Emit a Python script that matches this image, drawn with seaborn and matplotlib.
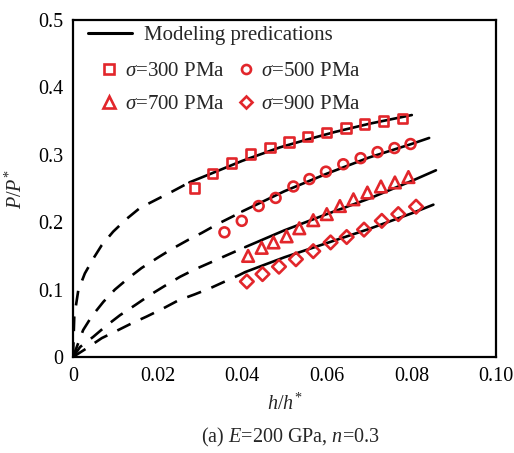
import numpy as np
import pandas as pd
import matplotlib
matplotlib.use("Agg")
import matplotlib.pyplot as plt
from matplotlib.lines import Line2D
import seaborn as sns

# ---------------- data ----------------
# experimental points
h300 = [0.0287, 0.0330, 0.0375, 0.0420, 0.0465, 0.0510, 0.0554, 0.0599, 0.0645, 0.0689, 0.0734, 0.0779]
p300 = [0.251, 0.272, 0.288, 0.301, 0.311, 0.319, 0.327, 0.333, 0.340, 0.346, 0.350, 0.354]

h500 = [0.0358, 0.0399, 0.0439, 0.0479, 0.0521, 0.0559, 0.0598, 0.0639, 0.0680, 0.0720, 0.0760, 0.0798]
p500 = [0.185, 0.202, 0.224, 0.236, 0.253, 0.264, 0.275, 0.286, 0.295, 0.304, 0.310, 0.316]

h700 = [0.0414, 0.0446, 0.0474, 0.0505, 0.0535, 0.0568, 0.0600, 0.0631, 0.0663, 0.0696, 0.0728, 0.0761, 0.0793]
p700 = [0.150, 0.162, 0.170, 0.179, 0.191, 0.203, 0.212, 0.224, 0.234, 0.244, 0.253, 0.259, 0.267]

h900 = [0.0411, 0.0448, 0.0487, 0.0527, 0.0568, 0.0609, 0.0647, 0.0688, 0.0730, 0.0769, 0.0811]
p900 = [0.112, 0.123, 0.134, 0.145, 0.157, 0.170, 0.178, 0.189, 0.202, 0.212, 0.223]

# model curves: dashed (extrapolated) part and solid part
m300_dash_h = [0, 0.0003, 0.00125, 0.0028, 0.0048, 0.0068, 0.0095, 0.0125, 0.0158, 0.0200, 0.0233, 0.0275]
m300_dash_p = [0, 0.060, 0.099, 0.124, 0.146, 0.166, 0.186, 0.204, 0.221, 0.2345, 0.245, 0.259]
m300_sol_h = [0.0275, 0.0330, 0.0400, 0.0489, 0.0550, 0.0620, 0.0700, 0.0801]
m300_sol_p = [0.259, 0.273, 0.291, 0.311, 0.322, 0.334, 0.346, 0.359]

m500_dash_h = [0, 0.0024, 0.0044, 0.0072, 0.0099, 0.0131, 0.0162, 0.0202, 0.0233, 0.0273, 0.0304, 0.0344, 0.0379, 0.0400]
m500_dash_p = [0, 0.040, 0.060, 0.082, 0.100, 0.117, 0.132, 0.148, 0.160, 0.174, 0.184, 0.198, 0.209, 0.216]
m500_sol_h = [0.0400, 0.0500, 0.0600, 0.0700, 0.0800, 0.0842]
m500_sol_p = [0.216, 0.246, 0.272, 0.296, 0.316, 0.325]

m700_dash_h = [0, 0.0017, 0.0048, 0.0076, 0.0111, 0.0147, 0.0182, 0.0213, 0.0253, 0.0288, 0.0328, 0.0360, 0.0407]
m700_dash_p = [0, 0.015, 0.030, 0.045, 0.062, 0.077, 0.092, 0.104, 0.119, 0.130, 0.141, 0.150, 0.163]
m700_sol_h = [0.0407, 0.0500, 0.0600, 0.0700, 0.0800, 0.0858]
m700_sol_p = [0.163, 0.188, 0.212, 0.235, 0.261, 0.277]

m900_dash_h = [0, 0.0030, 0.0068, 0.0099, 0.0139, 0.0174, 0.0213, 0.0249, 0.0288, 0.0324, 0.0359, 0.0391, 0.0407]
m900_dash_p = [0, 0.012, 0.028, 0.0375, 0.050, 0.060, 0.072, 0.084, 0.093, 0.102, 0.112, 0.121, 0.126]
m900_sol_h = [0.0407, 0.0500, 0.0600, 0.0700, 0.0800, 0.0852]
m900_sol_p = [0.126, 0.148, 0.169, 0.190, 0.213, 0.226]

x_ticks = [0, 0.02, 0.04, 0.06, 0.08, 0.10]
x_ticklabels = ["0", "0.02", "0.04", "0.06", "0.08", "0.10"]
y_ticks = [0, 0.1, 0.2, 0.3, 0.4, 0.5]
y_ticklabels = ["0", "0.1", "0.2", "0.3", "0.4", "0.5"]

series_labels = [r"$\sigma$=300 PMa", r"$\sigma$=500 PMa", r"$\sigma$=700 PMa", r"$\sigma$=900 PMa"]
model_label = "Modeling predications"
x_label = r"$h/h^{*}$"
y_label = r"$P/P^{*}$"
caption = r"(a) $E$=200 GPa, $n$=0.3"

# ---------------- build long-form table for the model curves ----------------
segments = [
    ("300", "dash", m300_dash_h, m300_dash_p), ("300", "solid", m300_sol_h, m300_sol_p),
    ("500", "dash", m500_dash_h, m500_dash_p), ("500", "solid", m500_sol_h, m500_sol_p),
    ("700", "dash", m700_dash_h, m700_dash_p), ("700", "solid", m700_sol_h, m700_sol_p),
    ("900", "dash", m900_dash_h, m900_dash_p), ("900", "solid", m900_sol_h, m900_sol_p),
]
model_df = pd.concat(
    [pd.DataFrame({"h": hh, "p": pp, "seg": f"{c}-{part}", "part": part})
     for c, part, hh, pp in segments],
    ignore_index=True,
)

# ---------------- style ----------------
sns.set_style("white")
plt.rcParams["font.family"] = ["Liberation Serif", "DejaVu Serif"]
plt.rcParams["mathtext.fontset"] = "custom"
plt.rcParams["mathtext.rm"] = "Liberation Serif"
plt.rcParams["mathtext.it"] = "Liberation Serif:italic"
plt.rcParams["mathtext.bf"] = "Liberation Serif:bold"

RED = "#e2262b"
FS = 14.5
FS_LEG = 15

fig = plt.figure(figsize=(5.14, 4.53), dpi=100)
ax = fig.add_axes([73 / 514, 1 - 357 / 453, (496 - 73) / 514, (357 - 20) / 453])

LW = 1.9
for seg_name, seg_df in model_df.groupby("seg", sort=False):
    part = seg_df["part"].iloc[0]
    ls = (0, (5.6, 4.2)) if part == "dash" else "-"
    sns.lineplot(data=seg_df, x="h", y="p", ax=ax, color="black", lw=LW, linestyle=ls,
                 estimator=None, sort=False, errorbar=None, legend=False, zorder=2)

markers = ["s", "o", "^", "D"]
sizes = [48, 50, 70, 48]
for (hx, py), mk, sz in zip([(h300, p300), (h500, p500), (h700, p700), (h900, p900)], markers, sizes):
    sns.scatterplot(x=hx, y=py, ax=ax, marker=mk, s=sz, facecolor="none",
                    edgecolor=RED, linewidth=1.9, zorder=3)

ax.set_xlim(0, 0.10)
ax.set_ylim(0, 0.5)
ax.set_xticks(x_ticks)
ax.set_xticklabels(x_ticklabels)
ax.set_yticks(y_ticks)
ax.set_yticklabels(y_ticklabels)
ax.set_xticks(np.arange(0, 0.1001, 0.01), minor=True)
ax.set_yticks(np.arange(0, 0.5001, 0.05), minor=True)
ax.tick_params(which="both", direction="in", top=False, right=False, width=1.5,
               labelsize=FS, pad=7, color="black", labelcolor="black")
ax.tick_params(which="major", length=5)
ax.tick_params(which="minor", length=3)
for s in ax.spines.values():
    s.set_linewidth(1.6)
    s.set_color("black")

ax.set_xlabel(x_label, fontsize=FS, labelpad=6)
ax.set_ylabel(y_label, fontsize=FS, labelpad=8)
fig.text(0.565, 0.035, caption, fontsize=FS, ha="center", va="center")

# legends
h_line = [Line2D([], [], color="black", lw=2.2)]
leg1 = ax.legend(h_line, [model_label], loc="center left", bbox_to_anchor=(0.035, 0.955),
                 frameon=False, fontsize=FS_LEG, handlelength=2.1, handletextpad=0.6,
                 borderpad=0, borderaxespad=0)
ax.add_artist(leg1)

mk_handles = [Line2D([], [], ls="none", marker=m, markersize=ms, mfc="none", mec=RED, mew=1.9)
              for m, ms in zip(markers, [6.5, 6.5, 8, 6.5])]
order = [0, 2, 1, 3]
leg2 = ax.legend([mk_handles[i] for i in order], [series_labels[i] for i in order],
                 ncol=2, loc="center left", bbox_to_anchor=(0.066, 0.798), frameon=False,
                 fontsize=FS_LEG, handlelength=0.8, handletextpad=0.35, columnspacing=0.6,
                 labelspacing=0.64, borderpad=0, borderaxespad=0)

fig.savefig("out.png", dpi=100)

n_lines = sum(1 for l in ax.lines if len(l.get_xdata()) > 0)
assert n_lines >= 8, f"only {n_lines} model lines drawn"
